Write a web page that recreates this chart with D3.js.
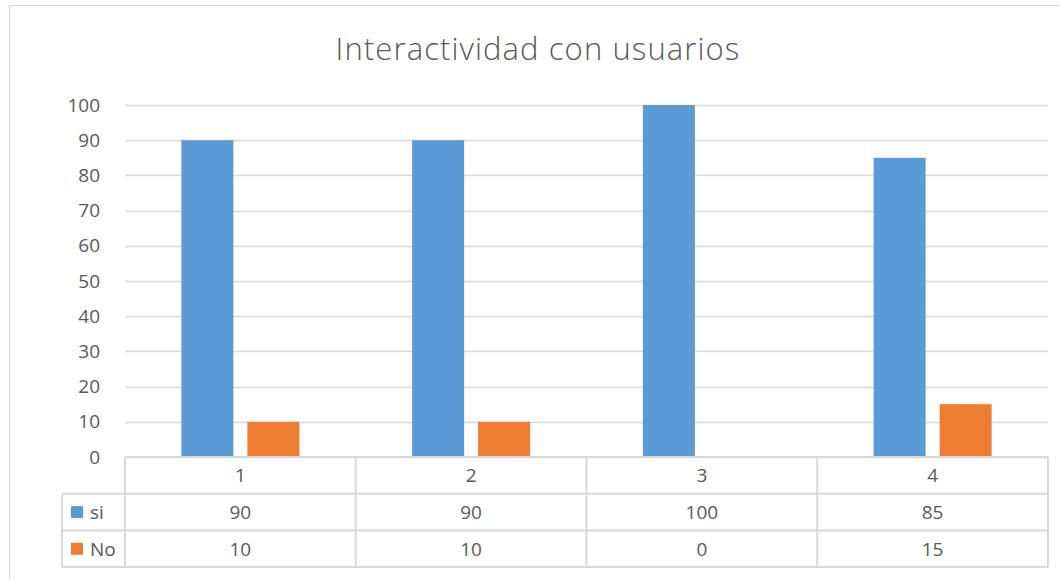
<!DOCTYPE html>
<html>
<head>
<meta charset="utf-8">
<script src="https://cdn.jsdelivr.net/npm/d3@7"></script>
<style>
  body { margin: 0; background: #fff; }
  text { font-family: "Open Sans", "Liberation Sans", sans-serif; fill: #595959; }
</style>
</head>
<body>
<div id="chart"></div>
<script>
const categories = ['1', '2', '3', '4'];
const seriesNames = ['si', 'No'];
const siValues = [90, 90, 100, 85];
const noValues = [10, 10, 0, 15];
const yTicks = [0, 10, 20, 30, 40, 50, 60, 70, 80, 90, 100];
const colors = ['#5b9bd5', '#ed7d31'];

const W = 1060, H = 580;
const plot = {left: 125, right: 1048, top: 105, bottom: 457};
const rowH = 36.7;

const svg = d3.select('#chart').append('svg')
    .attr('width', W).attr('height', H);

// borde del grafico
svg.append('rect')
    .attr('x', 9.5).attr('y', 5.5)
    .attr('width', W + 10).attr('height', H + 10)
    .attr('fill', 'none').attr('stroke', '#d9d9d9');

// titulo
svg.append('text')
    .attr('x', 538).attr('y', 60)
    .attr('text-anchor', 'middle')
    .attr('font-size', 31)
    .attr('font-weight', 300)
    .attr('letter-spacing', 1.1)
    .text('Interactividad con usuarios');

// Escalas
const x = d3.scaleBand().domain(categories).range([plot.left, plot.right]);
const y = d3.scaleLinear().domain([0, 100]).range([plot.bottom, plot.top]);

// grid
svg.append('g').selectAll('line')
    .data(yTicks)
    .join('line')
    .attr('x1', plot.left).attr('x2', plot.right)
    .attr('y1', d => Math.round(y(d)) + 0.5).attr('y2', d => Math.round(y(d)) + 0.5)
    .attr('stroke', '#d9d9d9').attr('stroke-width', 1.5);

// eje y
const yAxis = svg.append('g')
    .attr('transform', `translate(${plot.left - 25},0)`)
    .call(d3.axisLeft(y).tickValues(yTicks).tickSize(0).tickPadding(0));
yAxis.select('.domain').remove();
yAxis.selectAll('text')
    .attr('font-size', 19)
    .attr('fill', '#595959')
    .attr('font-family', '"Open Sans", sans-serif');

// barras
const barW = 52, gap = 14;
const series = [siValues, noValues];
series.forEach((vals, si) => {
    svg.append('g').selectAll('rect')
        .data(vals)
        .join('rect')
        .attr('x', (d, i) => x(categories[i]) + x.bandwidth() / 2 - barW - gap / 2 + si * (barW + gap))
        .attr('y', d => y(d))
        .attr('width', barW)
        .attr('height', d => y(0) - y(d))
        .attr('fill', colors[si]);
});

// tabla de datos
const tableLeft = 62;
const tbl = svg.append('g');
const lineColor = '#d9d9d9';
const rowsY = [plot.bottom, plot.bottom + rowH, plot.bottom + 2 * rowH, plot.bottom + 3 * rowH];

// horizontales
tbl.append('line').attr('x1', plot.left).attr('x2', plot.right)
    .attr('y1', rowsY[0]).attr('y2', rowsY[0]).attr('stroke', lineColor).attr('stroke-width', 2);
[1, 2, 3].forEach(r => {
    tbl.append('line').attr('x1', tableLeft).attr('x2', plot.right)
        .attr('y1', rowsY[r]).attr('y2', rowsY[r]).attr('stroke', lineColor).attr('stroke-width', 2);
});
// verticales
tbl.append('line').attr('x1', tableLeft).attr('x2', tableLeft)
    .attr('y1', rowsY[1]).attr('y2', rowsY[3]).attr('stroke', lineColor).attr('stroke-width', 2);
categories.concat(['end']).forEach((c, i) => {
    const xx = plot.left + i * x.bandwidth();
    tbl.append('line').attr('x1', xx).attr('x2', xx)
        .attr('y1', rowsY[0]).attr('y2', rowsY[3]).attr('stroke', lineColor).attr('stroke-width', 2);
});

// encabezados de categoria
tbl.selectAll('.cat')
    .data(categories)
    .join('text')
    .attr('class', 'cat')
    .attr('x', d => x(d) + x.bandwidth() / 2)
    .attr('y', rowsY[0] + rowH / 2 + 7)
    .attr('text-anchor', 'middle')
    .attr('font-size', 19)
    .text(d => d);

// filas de series
series.forEach((vals, si) => {
    const cy = rowsY[si + 1] + rowH / 2;
    tbl.append('rect')
        .attr('x', 71).attr('y', cy - 6)
        .attr('width', 12).attr('height', 12)
        .attr('fill', colors[si]);
    tbl.append('text')
        .attr('x', 90).attr('y', cy + 7)
        .attr('font-size', 19)
        .text(seriesNames[si]);
    tbl.selectAll('.v' + si)
        .data(vals)
        .join('text')
        .attr('class', 'v' + si)
        .attr('x', (d, i) => x(categories[i]) + x.bandwidth() / 2)
        .attr('y', cy + 7)
        .attr('text-anchor', 'middle')
        .attr('font-size', 19)
        .text(d => d);
});
</script>
</body>
</html>
